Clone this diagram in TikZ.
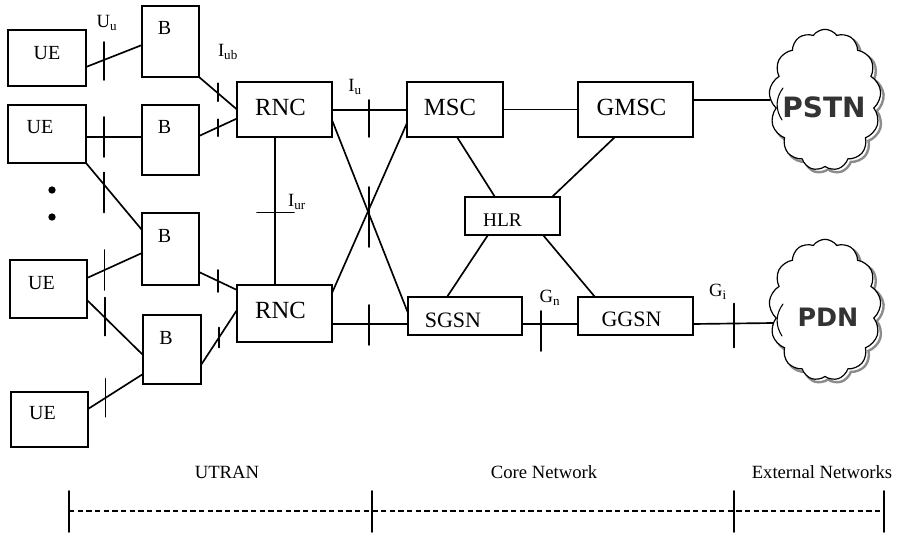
\documentclass[tikz,border=0pt]{standalone}
\usepackage{fontspec}
\setmainfont{Liberation Serif}
\newfontfamily\cloudfont{DejaVu Sans}
\usetikzlibrary{calc,shapes.symbols}

% font sizes used for box captions
\newcommand\fA{\fontsize{18.5}{20}\selectfont}
\newcommand\fB{\fontsize{16.5}{18}\selectfont}
\newcommand\fC{\fontsize{14.5}{16}\selectfont}
\newcommand\fU{\fontsize{15}{17}\selectfont}
\newcommand\fL{\fontsize{14}{16}\selectfont}

\tikzset{
  wire/.style={line width=1.25pt, line cap=round},
  box/.style={draw, rectangle, line width=1.25pt, inner sep=0pt, outer sep=0pt},
  boxtext/.style={inner sep=0pt},
  iflabel/.style={inner sep=0pt, font=\fL},
  region/.style={inner sep=0pt, font=\fL},
  dotmark/.style={circle, fill, inner sep=0pt, minimum size=5.5pt},
  netcloud/.style={cloud, cloud puffs=13, cloud puff arc=110, aspect=0.78,
    minimum width=84pt, minimum height=106pt, inner sep=0pt},
  cloudtext/.style={font=\cloudfont\bfseries, text=black!80},
}

% \netbox{name}{x1}{y1}{x2}{y2}{dx}{dy}{caption}
\newcommand\netbox[8]{%
  \node[box, minimum width={(#4-#2)*0.75pt}, minimum height={(#5-#3)*0.75pt},
    label={[boxtext,xshift={(#6)*0.75pt},yshift={-(#7)*0.75pt}]center:#8}]
    (#1) at ({(#2+#4)/2},{(#3+#5)/2}) {};}

% \tick{coordinate}{top}{bottom}: short vertical bar across a link
\newcommand\tick[3]{\draw[wire] ($(#1)+(0,#2)$) -- ($(#1)+(0,#3)$);}

\begin{document}
\begin{tikzpicture}[x=0.75pt, y=-0.75pt]
\useasboundingbox (0,0) rectangle (897,533);

% ---------- UTRAN ----------
\netbox{ue1}{8}{30}{86}{86}{0}{-5}{\fU UE}
\netbox{ue2}{8}{105}{86}{163}{-7}{-7}{\fU UE}
\netbox{ue3}{10}{260}{87}{318}{-7}{-6}{\fU UE}
\netbox{ue4}{11}{392}{88}{447}{-7}{-6}{\fU UE}

\netbox{b1}{142}{6}{199}{77}{-6}{-14}{\fU B}
\netbox{b2}{142}{105}{199}{175}{-6}{-13}{\fU B}
\netbox{b3}{142}{213}{199}{285}{-6}{-13}{\fU B}
\netbox{b4}{143}{315}{201}{384}{-6}{-12}{\fU B}

\netbox{rnc1}{237}{82}{332}{137}{-4}{-2}{\fA RNC}
\netbox{rnc2}{237}{285}{332}{342}{-4}{-3}{\fA RNC}

\node[dotmark] (dot1) at (52,190) {};
\node[dotmark] (dot2) at (52,217) {};

% ---------- Core network ----------
\netbox{msc}{407}{82}{503}{137}{-5}{-2}{\fA MSC}
\netbox{gmsc}{578}{82}{693}{137}{-4}{-2}{\fA GMSC}
\netbox{hlr}{465}{197}{560}{235}{-10}{4}{\fC HLR}
\netbox{sgsn}{408}{297}{522}{335}{-12}{4}{\fB SGSN}
\netbox{ggsn}{578}{297}{693}{335}{-4}{3}{\fB GGSN}

% ---------- External networks ----------
\node[netcloud, draw=black!45, line width=1.8pt] (pstnshade) at (828,103) {};
\node[netcloud, draw, fill=white, line width=0.9pt] (pstn) at (825,100) {};
\node[cloudtext, font=\cloudfont\bfseries\fontsize{21}{22}\selectfont] (pstnlbl) at (824,107) {PSTN};
\draw[wire, line width=0.8pt] ($(pstn.center)+(-42,-12)$) to[bend right=35] ($(pstn.center)+(-43,20)$);

\node[netcloud, draw=black!45, line width=1.8pt] (pdnshade) at (828,313) {};
\node[netcloud, draw, fill=white, line width=0.9pt] (pdn) at (825,310) {};
\node[cloudtext, font=\cloudfont\bfseries\fontsize{19}{20}\selectfont] (pdnlbl) at (828,317) {PDN};
\draw[wire, line width=0.8pt] ($(pdn.center)+(-42,-6)$) to[bend right=35] ($(pdn.center)+(-43,26)$);

% ---------- links: UE -- Node B (Uu) ----------
\draw[wire] ($(ue1.east)+(0,9)$) -- coordinate[pos=0.32] (t1) ($(b1.west)+(0,3.5)$);
\tick{t1}{-18}{20}
\draw[wire] ($(ue2.east)+(0,3)$) -- coordinate[pos=0.32] (t2) ($(b2.west)+(0,-3)$);
\tick{t2}{-20}{20}
\draw[wire] (ue2.south east) -- coordinate[pos=0.32] (t3) ($(b3.west)+(0,-19)$);
\tick{t3}{-12}{28}
\draw[wire] ($(ue3.east)+(0,-11)$) -- coordinate[pos=0.32] (t4) ($(b3.west)+(0,4)$);
\tick{t4}{-20}{20}
\draw[wire] ($(ue3.east)+(0,11)$) -- coordinate[pos=0.32] (t5) ($(b4.west)+(0,5.5)$);
\tick{t5}{-20}{18}
\draw[wire] ($(ue4.east)+(0,-10.5)$) -- coordinate[pos=0.32] (t6) ($(b4.west)+(0,24.5)$);
\tick{t6}{-19}{19}

% ---------- links: Node B -- RNC (Iub) ----------
\draw[wire] (b1.south east) -- coordinate[pos=0.5] (t7) (rnc1.west);
\tick{t7}{-10}{8}
\draw[wire] ($(b2.east)+(0,-4)$) -- coordinate[pos=0.5] (t8) ($(rnc1.west)+(0,9)$);
\tick{t8}{-8}{9}
\draw[wire] ($(b3.east)+(0,23)$) -- coordinate[pos=0.5] (t9) ($(rnc2.west)+(0,-23.5)$);
\tick{t9}{-11}{11}
\draw[wire] ($(b4.east)+(0,15.5)$) -- coordinate[pos=0.5] (t10) ($(rnc2.west)+(0,-3.5)$);
\tick{t10}{-10}{10}

% ---------- RNC -- RNC (Iur) ----------
\draw[wire] ($(rnc1.south)+(-9.5,0)$) -- coordinate[pos=0.51] (t11) ($(rnc2.north)+(-9.5,0)$);
\draw[wire] ($(t11)+(-18,0)$) -- ($(t11)+(19,0)$);

% ---------- RNC -- core (Iu) ----------
\draw[wire] ($(rnc1.east)+(0,0.5)$) -- coordinate[pos=0.49] (t12) ($(msc.west)+(0,0.5)$);
\tick{t12}{-10}{27}
\draw[wire] ($(rnc1.east)+(0,10.5)$) -- coordinate[pos=0.487] (t13) ($(sgsn.west)+(0,-3)$);
\tick{t13}{-27}{33}
\draw[wire] ($(rnc2.east)+(0,-20.5)$) -- ($(msc.west)+(0,13.5)$);
\draw[wire] ($(rnc2.east)+(0,10.5)$) -- coordinate[pos=0.487] (t14) ($(sgsn.west)+(0,8)$);
\tick{t14}{-19}{21}

% ---------- core network links ----------
\draw[wire] (msc.east) -- (gmsc.west);
\draw[wire] ($(msc.south)+(2,0)$) -- ($(hlr.north)+(-17.5,0)$);
\draw[wire] ($(gmsc.south)+(-20.5,0)$) -- ($(hlr.north)+(39.5,0)$);
\draw[wire] ($(hlr.south)+(-24.5,0)$) -- ($(sgsn.north)+(-18,0)$);
\draw[wire] ($(hlr.south)+(30.5,0)$) -- ($(ggsn.north)+(-40.5,0)$);
\draw[wire] ($(sgsn.east)+(0,8)$) -- coordinate[pos=0.34] (t15) ($(ggsn.west)+(0,8)$);
\tick{t15}{-13}{27}

% ---------- to external networks ----------
\draw[wire] ($(gmsc.east)+(0,-9.5)$) -- (pstn.west);
\draw[wire] ($(ggsn.east)+(0,8)$) -- coordinate[pos=0.51] (t16) ($(pdn.west)+(3,13)$);
\tick{t16}{-20}{24}

% ---------- interface names ----------
\node[iflabel] (luu) at (107,23) {U\textsubscript{u}};
\node[iflabel] (liub) at (228,52) {I\textsubscript{ub}};
\node[iflabel] (liu) at (355,87) {I\textsubscript{u}};
\node[iflabel] (liur) at (297,202) {I\textsubscript{ur}};
\node[iflabel] (lgn) at (550,298) {G\textsubscript{n}};
\node[iflabel] (lgi) at (718,292) {G\textsubscript{i}};

% ---------- domain scale ----------
\coordinate (s0) at (69,511);
\coordinate (s1) at (372,511);
\coordinate (s2) at (734,511);
\coordinate (s3) at (884,511);
\draw[line width=1pt, dash pattern=on 4pt off 2.5pt] (s0) -- (s3);
\foreach \s in {s0,s1,s2,s3}
  \draw[wire] ($(\s)+(0,-20)$) -- ($(\s)+(0,21)$);
\node[region] (rutran) at (227,472) {UTRAN};
\node[region] (rcore) at (544,472) {Core Network};
\node[region] (rext) at (822,472) {External Networks};
\end{tikzpicture}
\end{document}
